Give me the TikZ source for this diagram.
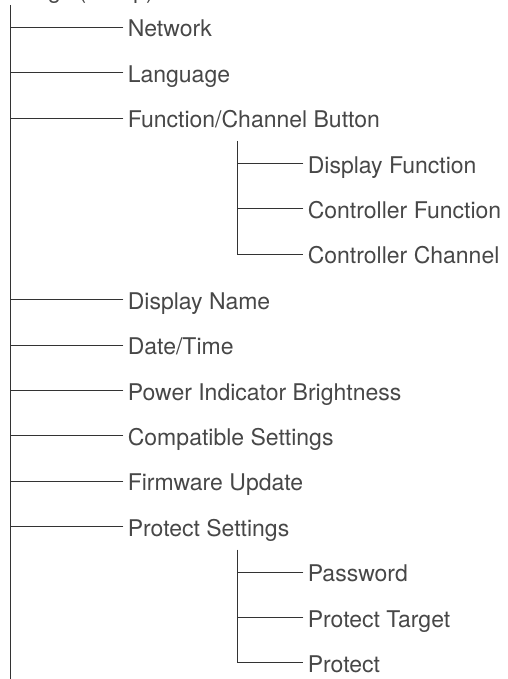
\documentclass[tikz,border=0pt]{standalone}
\usepackage{fontspec}
\setmainfont{TeX Gyre Heros}
\definecolor{ink}{HTML}{474747}
\definecolor{wire}{HTML}{333333}
\tikzset{
  item/.style={anchor=west, inner xsep=4.3pt, inner ysep=0pt, text height=19pt, text depth=0pt,
    text=ink, font=\fontsize{23}{27}\selectfont},
  wire/.style={draw=wire, line width=1.1pt}
}
\begin{document}
\begin{tikzpicture}[x=1pt, y=-1pt]
\useasboundingbox (0,0) rectangle (507,679);
\clip (0,0) rectangle (507,679);
% parent entry, cut off at the top
\node[anchor=base west, inner sep=0pt, text=ink, font=\fontsize{23}{27}\selectfont] (setup) at (-10.8,-1.5) {Settings (Setup)};
% trunk
\coordinate (trunk) at (10.7,5);
\coordinate (trunk end) at (10.7,679);
\draw[wire] (trunk) -- (trunk end);
% first level
\node[item] (net) at (123.3,27.3) {Network};
\node[item] (lang) at (123.3,72.7) {Language};
\node[item] (fcb) at (123.3,118.1) {Function/Channel Button};
\node[item] (dname) at (123.3,299.7) {Display Name};
\node[item] (date) at (123.3,345.1) {Date/Time};
\node[item] (power) at (123.3,390.5) {Power Indicator Brightness};
\node[item] (compat) at (123.3,435.9) {Compatible Settings};
\node[item] (fw) at (123.3,481.3) {Firmware Update};
\node[item] (prot) at (123.3,526.7) {Protect Settings};
\foreach \n in {net,lang,fcb,dname,date,power,compat,fw,prot}
  \draw[wire] (\n.west) -- (\n.west -| trunk);
% second level under Function/Channel Button
\coordinate (fcb sub) at (237.3,141);
\node[item] (dfunc) at (303.3,163.5) {Display Function};
\node[item] (cfunc) at (303.3,208.9) {Controller Function};
\node[item] (cchan) at (303.3,254.3) {Controller Channel};
\draw[wire] (fcb sub) -- (fcb sub |- cchan.west) -- (cchan.west);
\foreach \n in {dfunc,cfunc}
  \draw[wire] (\n.west) -- (\n.west -| fcb sub);
% second level under Protect Settings
\coordinate (prot sub) at (237.3,549.5);
\node[item] (pass) at (303.3,572.1) {Password};
\node[item] (ptarget) at (303.3,617.5) {Protect Target};
\node[item] (protect) at (303.3,662.9) {Protect};
\draw[wire] (prot sub) -- (prot sub |- protect.west) -- (protect.west);
\foreach \n in {pass,ptarget}
  \draw[wire] (\n.west) -- (\n.west -| prot sub);
\end{tikzpicture}
\end{document}
